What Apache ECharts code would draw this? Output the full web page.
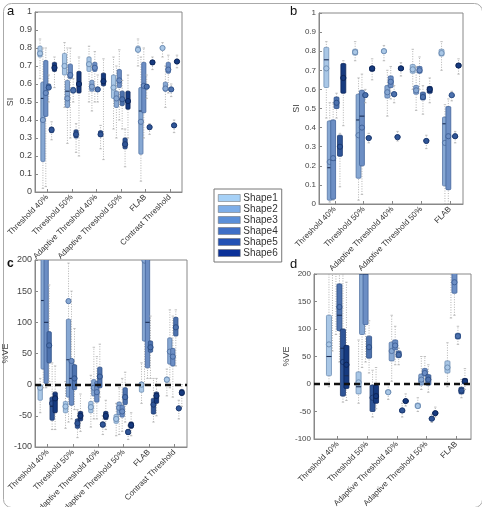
<!DOCTYPE html>
<html>
<head>
<meta charset="utf-8">
<script src="https://cdn.jsdelivr.net/npm/echarts@6/dist/echarts.min.js"></script>
<style>
  html, body { margin: 0; padding: 0; background: #fff; }
  #chart { width: 482px; height: 507px; }
</style>
</head>
<body>
<div id="chart"></div>
<script>
// categories
const catsSix = ['Threshold 40%', 'Threshold 50%', 'Adaptive Threshold 40%', 'Adaptive Threshold 50%', 'FLAB', 'Contrast Threshold']
const catsFive = ['Threshold 40%', 'Threshold 50%', 'Adaptive Threshold 40%', 'Adaptive Threshold 50%', 'FLAB']
const shapeNames = ['Shape1', 'Shape2', 'Shape3', 'Shape4', 'Shape5', 'Shape6']

// each row: [min, q1, median, q3, max, mean] per method, one list per shape
// panel a: SI
const siA = [
  [[0.63,0.75,0.77,0.81,0.85,0.77],[0.47,0.65,0.70,0.77,0.83,0.70],[0.50,0.67,0.71,0.75,0.81,0.71],[0.35,0.52,0.58,0.65,0.75,0.58],[0.70,0.78,0.79,0.81,0.85,0.79],[0.75,0.795,0.80,0.81,0.83,0.80]],
  [[0.02,0.17,0.52,0.61,0.80,0.40],[0.27,0.47,0.56,0.62,0.80,0.52],[0.45,0.56,0.585,0.62,0.70,0.585],[0.30,0.47,0.52,0.56,0.70,0.52],[0.06,0.21,0.45,0.58,0.75,0.39],[0.47,0.56,0.575,0.61,0.70,0.575]],
  [[0.03,0.42,0.55,0.73,0.80,0.55],[0.30,0.63,0.65,0.71,0.80,0.65],[0.50,0.67,0.69,0.72,0.78,0.69],[0.40,0.58,0.62,0.68,0.79,0.62],[0.30,0.44,0.59,0.72,0.80,0.59],[0.55,0.66,0.68,0.72,0.76,0.68]],
  [[0.50,0.57,0.58,0.60,0.65,0.58],[0.50,0.55,0.565,0.58,0.63,0.565],[0.50,0.56,0.57,0.58,0.65,0.57],[0.35,0.48,0.515,0.56,0.62,0.515],[0.52,0.575,0.585,0.595,0.65,0.585],[0.53,0.565,0.57,0.575,0.60,0.57]],
  [[0.29,0.33,0.345,0.36,0.39,0.345],[0.22,0.30,0.32,0.345,0.38,0.32],[0.24,0.31,0.32,0.34,0.37,0.32],[0.14,0.24,0.265,0.30,0.35,0.265],[0.32,0.35,0.36,0.37,0.38,0.36],[0.33,0.36,0.37,0.38,0.40,0.37]],
  [[0.58,0.67,0.69,0.72,0.75,0.69],[0.20,0.55,0.60,0.67,0.75,0.60],[0.18,0.59,0.615,0.66,0.74,0.615],[0.30,0.46,0.505,0.56,0.65,0.505],[0.68,0.71,0.72,0.73,0.75,0.72],[0.69,0.715,0.725,0.735,0.76,0.725]]
]
// panel b: SI
const siB = [
  [[0.45,0.61,0.755,0.82,0.85,0.71],[0.75,0.78,0.795,0.81,0.85,0.795],[0.75,0.79,0.80,0.81,0.83,0.80],[0.60,0.685,0.705,0.73,0.81,0.705],[0.70,0.775,0.79,0.81,0.85,0.79]],
  [[0.01,0.02,0.19,0.435,0.53,0.22],[0.02,0.135,0.44,0.575,0.66,0.36],[0.46,0.555,0.585,0.62,0.70,0.585],[0.49,0.575,0.595,0.62,0.72,0.595],[0.00,0.095,0.42,0.455,0.52,0.32]],
  [[0.02,0.025,0.23,0.44,0.53,0.24],[0.05,0.20,0.46,0.595,0.68,0.40],[0.55,0.61,0.64,0.67,0.72,0.64],[0.60,0.685,0.70,0.72,0.77,0.70],[0.00,0.075,0.35,0.51,0.55,0.355]],
  [[0.45,0.50,0.53,0.56,0.58,0.53],[0.53,0.56,0.57,0.58,0.60,0.57],[0.53,0.565,0.575,0.585,0.62,0.575],[0.47,0.545,0.56,0.585,0.62,0.56],[0.54,0.56,0.57,0.575,0.59,0.57]],
  [[0.09,0.25,0.30,0.36,0.37,0.30],[0.32,0.34,0.345,0.355,0.37,0.345],[0.33,0.345,0.35,0.36,0.38,0.35],[0.29,0.325,0.33,0.34,0.36,0.33],[0.32,0.345,0.355,0.36,0.38,0.355]],
  [[0.41,0.58,0.66,0.735,0.75,0.66],[0.65,0.695,0.71,0.72,0.76,0.71],[0.67,0.70,0.71,0.72,0.74,0.71],[0.53,0.58,0.60,0.615,0.66,0.60],[0.68,0.715,0.725,0.735,0.76,0.725]]
]
// panel c: %VE
const veC = [
  [[-45,-25,-5,0,10,-5],[-70,-45,-35,-27,5,-35],[-68,-45,-36,-27,15,-36],[-82,-62,-55,-48,-30,-55],[-30,-12,0,4,35,0],[-18,4,8,12,25,8]],
  [[-5,25,135,230,300,215],[-60,-20,40,105,195,134],[-55,-18,-5,8,60,-5],[-80,-48,-37,-28,-5,-37],[0,70,200,240,300,199],[-5,33,53,75,120,53]],
  [[-5,2,100,260,320,210],[-55,-33,10,40,150,38],[-55,-28,-12,5,45,-12],[-75,-52,-43,-33,10,-43],[10,27,100,230,300,210],[-20,30,45,58,110,45]],
  [[5,35,63,85,160,63],[-40,-8,10,32,90,10],[-20,-5,13,28,65,13],[-60,-32,-20,-5,20,-20],[10,52,60,70,110,60],[30,78,92,108,120,92]],
  [[-72,-57,-35,-20,35,-30],[-85,-70,-62,-55,-40,-62],[-80,-68,-64,-60,-50,-64],[-88,-80,-76,-72,-65,-76],[-60,-47,-32,-22,10,-32],[-55,-40,-38,-35,-25,-38]],
  [[-72,-45,-22,-12,30,-22],[-75,-58,-50,-43,-15,-50],[-72,-56,-50,-43,-25,-50],[-82,-70,-65,-60,-45,-65],[-50,-30,-18,-12,10,-18],[-35,-17,-13,-8,0,-13]]
]
// panel d: %VE
const veD = [
  [[-5,15,50,125,260,72],[-35,-18,-5,22,80,3],[-28,-18,-15,-11,0,-15],[-50,-44,-40,-35,-25,-40],[-5,20,30,42,75,30]],
  [[60,210,250,300,350,260],[30,90,200,240,300,220],[5,42,60,76,125,60],[-10,-2,5,18,50,8],[120,220,260,300,400,270]],
  [[90,220,260,320,380,270],[40,108,200,250,320,220],[35,62,70,80,105,70],[0,15,20,28,50,20],[125,165,185,230,300,185]],
  [[40,97,125,182,230,140],[20,47,67,87,115,67],[35,48,53,60,65,53],[-15,-2,8,17,35,8],[72,82,87,92,105,87]],
  [[-33,-22,65,100,200,40],[-60,-50,-25,-2,25,-25],[-60,-52,-48,-45,-35,-48],[-70,-66,-63,-60,-55,-63],[-25,-18,-12,-6,8,-12]],
  [[-30,-8,15,70,185,35],[-45,-35,-25,-2,30,-22],[-40,-34,-31,-28,-18,-31],[-60,-56,-53,-50,-42,-53],[-10,0,5,10,28,5]]
]

const boxFill = ['#a9c7e6', '#87a8d3', '#6c8ec4', '#4d72ae', '#2f5597', '#163a7f']
const boxEdge = ['#6f8fb5', '#5776a6', '#41639a', '#2d4f86', '#1d3a70', '#0c2558']
const legendFill = ['#a6d1f7', '#7eaee8', '#5b8fd8', '#3f6fc6', '#2251b4', '#0b3199']

const step = 0.118
const boxW = 0.17
const font = 'Liberation Sans, Arial, sans-serif'

function renderBox(params, api, s) {
  const x = api.value(0)
  const pMin = api.coord([x, api.value(1)])
  const pQ1 = api.coord([x, api.value(2)])
  const pMed = api.coord([x, api.value(3)])
  const pQ3 = api.coord([x, api.value(4)])
  const pMax = api.coord([x, api.value(5)])
  const pMean = api.coord([x, api.value(6)])
  const w = api.size([boxW, 0])[0]
  const cx = pMin[0]
  const whisker = { stroke: '#a0a0a0', lineWidth: 0.8, lineDash: [1, 1.5] }
  const cap = { stroke: '#b0b0b0', lineWidth: 0.8 }
  return {
    type: 'group',
    children: [
      { type: 'line', shape: { x1: cx, y1: pMin[1], x2: cx, y2: pQ1[1] }, style: whisker },
      { type: 'line', shape: { x1: cx, y1: pQ3[1], x2: cx, y2: pMax[1] }, style: whisker },
      { type: 'line', shape: { x1: cx - 1.2, y1: pMin[1], x2: cx + 1.2, y2: pMin[1] }, style: cap },
      { type: 'line', shape: { x1: cx - 1.2, y1: pMax[1], x2: cx + 1.2, y2: pMax[1] }, style: cap },
      {
        type: 'rect',
        shape: { x: cx - w / 2, y: pQ3[1], width: w, height: Math.max(pQ1[1] - pQ3[1], 2), r: 1 },
        style: { fill: boxFill[s], stroke: boxEdge[s], lineWidth: 0.8 }
      },
      { type: 'line', shape: { x1: cx - w / 2, y1: pMed[1], x2: cx + w / 2, y2: pMed[1] }, style: { stroke: '#1b2e55', lineWidth: 1.1 } },
      { type: 'circle', shape: { cx: cx, cy: pMean[1], r: 2.6 }, style: { fill: boxFill[s], stroke: boxEdge[s], lineWidth: 1 } }
    ]
  }
}

function panelSeries(box, idx, withZero) {
  return shapeNames.map((name, s) => {
    const ser = {
      name: name,
      type: 'custom',
      xAxisIndex: idx,
      yAxisIndex: idx,
      clip: true,
      itemStyle: { color: boxFill[s] },
      encode: { x: 0, y: [1, 2, 3, 4, 5, 6] },
      renderItem: (p, api) => renderBox(p, api, s),
      data: box[s].map((r, g) => [g + 1 + (s - 2.5) * step].concat(r)),
      z: 2
    }
    if (withZero && s === 5) {
      ser.markLine = {
        silent: true,
        symbol: 'none',
        label: { show: false },
        lineStyle: { color: '#111', type: [6, 4], width: 2.4 },
        data: [{ yAxis: 0 }],
        z: 10
      }
    }
    return ser
  })
}

function xAx(idx, cats, min, max) {
  const ticks = cats.map((c, i) => i + 1)
  return {
    gridIndex: idx, type: 'value', min: min, max: max,
    axisLine: { show: true, onZero: false, lineStyle: { color: '#888' } },
    axisTick: { show: true, inside: true, length: 3, customValues: ticks, lineStyle: { color: '#888' } },
    splitLine: { show: false },
    axisLabel: {
      customValues: ticks, rotate: 45, fontSize: 8, color: '#333', fontFamily: font, margin: 4,
      formatter: v => cats[Math.round(v) - 1]
    }
  }
}

function yAx(idx, name, min, max, interval, gap, fs) {
  return {
    gridIndex: idx, type: 'value', min: min, max: max, interval: interval,
    name: name, nameLocation: 'middle', nameGap: gap,
    nameTextStyle: { fontSize: 9, color: '#444', fontFamily: font },
    axisLine: { show: true, lineStyle: { color: '#888' } },
    axisTick: { show: true, inside: true, length: 3, lineStyle: { color: '#888' } },
    splitLine: { show: false },
    axisLabel: { fontSize: fs, color: '#444', fontFamily: font, margin: 3 }
  }
}

const gridBase = { show: true, borderColor: '#888', borderWidth: 1, backgroundColor: '#fff', containLabel: false, outerBoundsMode: 'none' }

const chart = echarts.init(document.getElementById('chart'), null, { renderer: 'canvas' })

const option = {
  animation: false,
  backgroundColor: '#fff',
  textStyle: { fontFamily: font },
  grid: [
    Object.assign({ left: 35, top: 12, width: 147, height: 180 }, gridBase),
    Object.assign({ left: 319, top: 13, width: 144, height: 191 }, gridBase),
    Object.assign({ left: 35, top: 260, width: 152, height: 187 }, gridBase),
    Object.assign({ left: 314, top: 274, width: 157, height: 165 }, gridBase)
  ],
  xAxis: [
    xAx(0, catsSix, 0.5, 6.5),
    xAx(1, catsFive, 0.45, 5.45),
    xAx(2, catsSix, 0.5, 6.5),
    xAx(3, catsFive, 0.2, 5.5)
  ],
  yAxis: [
    yAx(0, 'SI', 0, 1, 0.1, 20, 9),
    yAx(1, 'SI', 0, 1, 0.1, 13, 8),
    yAx(2, '%VE', -100, 200, 50, 17, 9),
    yAx(3, '%VE', -100, 200, 50, 13, 8)
  ],
  legend: {
    orient: 'vertical',
    left: 214, top: 189,
    padding: [4, 4, 4, 4],
    itemGap: 1,
    itemWidth: 22, itemHeight: 7,
    icon: 'rect',
    selectedMode: false,
    borderColor: '#777', borderWidth: 1,
    backgroundColor: '#fff',
    textStyle: { fontSize: 10, color: '#333', fontFamily: font, lineHeight: 10, padding: [0, 0, 0, -2] },
    data: shapeNames.map((n, i) => ({ name: n, itemStyle: { color: legendFill[i], borderColor: '#666', borderWidth: 0.5 } }))
  },
  graphic: [
    { type: 'rect', left: 1, top: 1, shape: { width: 479, height: 504, r: 8 }, style: { fill: 'none', stroke: '#aaa', lineWidth: 1 }, silent: true },
    { type: 'text', left: 7, top: 5, style: { text: 'a', fontSize: 13, fill: '#111', fontFamily: font } },
    { type: 'text', left: 290, top: 5, style: { text: 'b', fontSize: 13, fill: '#111', fontFamily: font } },
    { type: 'text', left: 7, top: 258, style: { text: 'c', fontSize: 12, fontWeight: 'bold', fill: '#111', fontFamily: font } },
    { type: 'text', left: 290, top: 258, style: { text: 'd', fontSize: 13, fill: '#111', fontFamily: font } }
  ],
  series: [].concat(
    panelSeries(siA, 0, false),
    panelSeries(siB, 1, false),
    panelSeries(veC, 2, true),
    panelSeries(veD, 3, true)
  )
}

chart.setOption(option)

window.addEventListener('resize', () => {
  chart.resize()
})
</script>
</body>
</html>
